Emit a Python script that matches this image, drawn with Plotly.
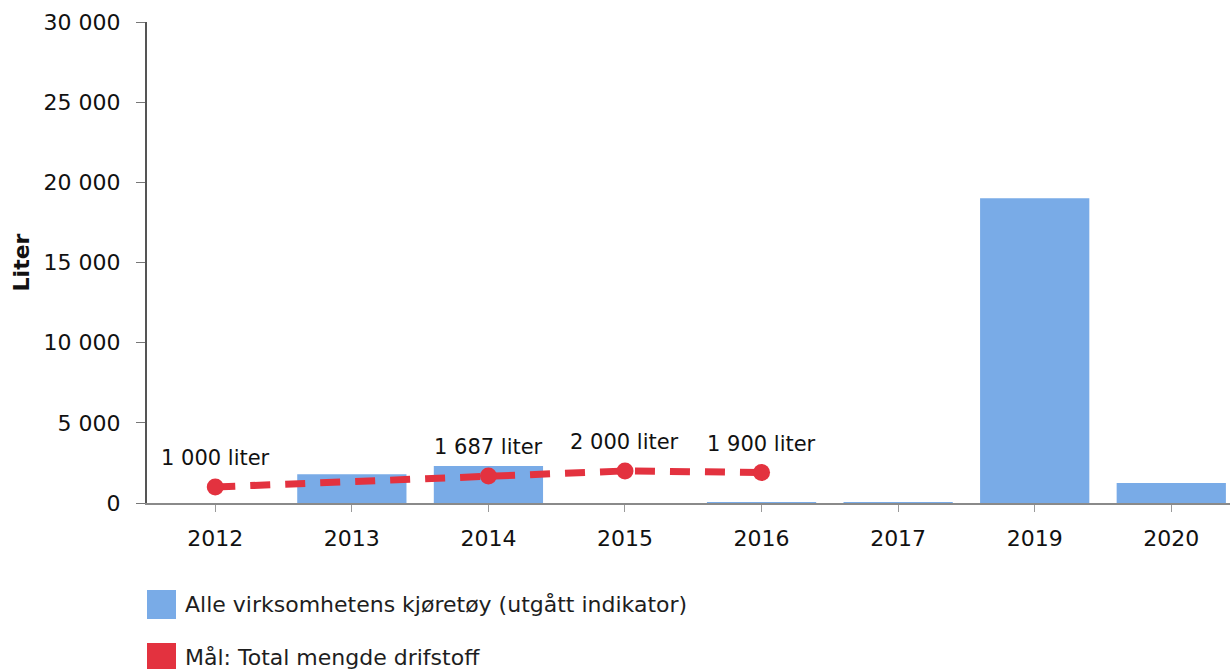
import plotly.graph_objects as go

years = ["2012", "2013", "2014", "2015", "2016", "2017", "2019", "2020"]
vehicles = [0, 1800, 2300, 0, 60, 60, 19000, 1250]
target = [1000, None, 1687, 2000, 1900, None, None, None]
target_labels = ["1 000 liter", "", "1 687 liter", "2 000 liter", "1 900 liter", "", "", ""]
y_ticks = [0, 5000, 10000, 15000, 20000, 25000, 30000]
y_tick_text = ["0", "5 000", "10 000", "15 000", "20 000", "25 000", "30 000"]
legend_names = ["Alle virksomhetens kjøretøy (utgått indikator)", "Mål: Total mengde drifstoff"]

BLUE = "#79abe7"
RED = "#e3323f"
FONT = "DejaVu Sans"
TXT = "#111111"
W, H = 1230, 669
ML, MR, MT, MB = 147, 0, 22, 166
plot_w = W - ML - MR
plot_h = H - MT - MB

fig = go.Figure()
fig.add_trace(go.Bar(x=years, y=vehicles, marker=dict(color=BLUE, line=dict(width=0)),
                     width=0.8, name=legend_names[0], showlegend=False))
fig.add_trace(go.Scatter(x=years, y=target, mode="lines+markers", connectgaps=True,
                         line=dict(color=RED, width=7, dash="20px,15px"),
                         marker=dict(color=RED, size=17),
                         name=legend_names[1], showlegend=False))

for i, (v, lab) in enumerate(zip(target, target_labels)):
    if v is not None and lab:
        fig.add_annotation(x=i, y=v, text=lab, showarrow=False, yshift=29,
                           font=dict(family=FONT, size=21, color=TXT))

# legend drawn manually
def py(p):
    return (H - MB - p) / plot_h

def px(p):
    return (p - ML) / plot_w

legend_rows = [(590, BLUE, legend_names[0]), (643, RED, legend_names[1])]
for top, col, name in legend_rows:
    fig.add_shape(type="rect", xref="paper", yref="paper",
                  x0=px(147), x1=px(176), y0=py(top), y1=py(top + 29),
                  fillcolor=col, line=dict(width=0), layer="above")
    fig.add_annotation(xref="paper", yref="paper", x=px(183), y=py(top + 14),
                       xanchor="left", yanchor="middle", showarrow=False, text=name,
                       font=dict(family=FONT, size=22, color="#1e1e1e"))

fig.update_layout(
    width=W, height=H,
    margin=dict(l=ML, r=MR, t=MT, b=MB, pad=0, autoexpand=False),
    plot_bgcolor="white", paper_bgcolor="white",
    bargap=0.2,
    font=dict(family=FONT, size=22, color=TXT),
    xaxis=dict(type="category", range=[-0.5, 7.43], showgrid=False, zeroline=False,
               automargin=False,
               showline=True, linecolor="#8a8a8a", linewidth=2,
               ticks="outside", ticklen=7, tickcolor="#9a9a9a", tickwidth=1,
               ticklabelstandoff=8,
               tickfont=dict(family=FONT, size=22, color=TXT)),
    yaxis=dict(range=[0, 30000], tickvals=y_ticks, ticktext=y_tick_text,
               automargin=False,
               showgrid=False, zeroline=False, showline=True, linecolor="#555555",
               linewidth=2, ticks="outside", ticklen=9, tickcolor="#777777",
               ticklabelstandoff=11,
               tickfont=dict(family=FONT, size=22, color=TXT),
               title=dict(text="<b>Liter</b>", font=dict(family=FONT, size=22, color=TXT),
                          standoff=8)),
)

fig.write_html("out.html", config={"displayModeBar": False},
               post_script="document.body.style.margin='0';document.body.style.overflow='hidden';")
